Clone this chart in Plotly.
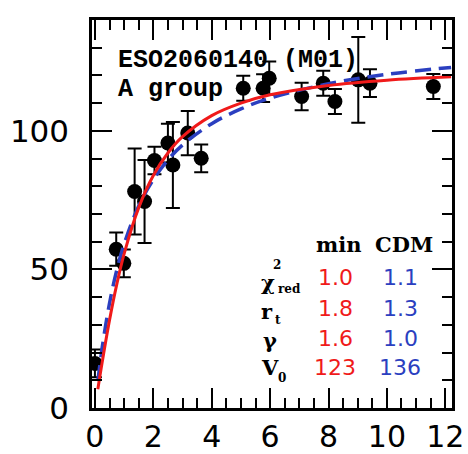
import plotly.graph_objects as go

# Observed rotation curve points (radius, velocity, error)
r_obs = [0.0, 0.73, 0.99, 1.36, 1.70, 2.04, 2.50, 2.67, 3.18, 3.64,
         5.08, 5.76, 5.97, 7.08, 7.82, 8.22, 9.02, 9.42, 11.59]
v_obs = [16.1, 57.3, 52.2, 78.1, 74.5, 89.3, 95.6, 87.7, 99.2, 90.1,
         115.4, 115.4, 119.0, 112.4, 117.2, 110.6, 118.4, 117.2, 116.0]
v_err = [5, 6, 5, 15.5, 15, 5, 7, 15.5, 8, 5,
         4.5, 5, 6, 5, 4.5, 4.5, 15.5, 5, 4.5]

# Fitted curves
r_fit = [0.1, 0.25, 0.5, 0.75, 1.0, 1.5, 2.0, 2.5, 3.0, 4.0, 5.0, 6.0, 8.0, 10.0, 12.2]
v_min = [6.8, 16.6, 31.7, 44.7, 55.6, 72.3, 83.9, 92.0, 97.9, 105.5, 110.0, 113.0, 116.4, 118.3, 119.5]
v_cdm = [9.7, 21.9, 37.8, 49.8, 59.1, 72.9, 82.4, 89.5, 94.9, 102.6, 107.9, 111.8, 117.0, 120.4, 122.9]

# Table
row_values_min = ["1.0", "1.8", "1.6", "123"]
row_values_cdm = ["1.1", "1.3", "1.0", "136"]

RED = "#f01a1a"
BLUE = "#2b3fc0"

fig = go.Figure()
fig.add_trace(go.Scatter(
    x=r_obs, y=v_obs, mode="markers",
    marker=dict(color="black", size=15),
    error_y=dict(type="data", array=v_err, color="black", thickness=2, width=7),
    showlegend=False))
fig.add_trace(go.Scatter(
    x=r_fit, y=v_cdm, mode="lines", line=dict(color=BLUE, width=3.5, dash="16px,8px", shape="spline"),
    showlegend=False))
fig.add_trace(go.Scatter(
    x=r_fit, y=v_min, mode="lines", line=dict(color=RED, width=3, shape="spline"),
    showlegend=False))

L, R, T, B = 92, 452, 20, 408
W, H = R - L, B - T


def xp(px):
    return (px - L) / W


def yp(py):
    return (B - py) / H


ann = []
title_font = dict(family="Liberation Mono", size=25, color="black")
ann.append(dict(x=xp(116), y=yp(61), text="<b>ESO2060140 (M01)</b>", xanchor="left", yanchor="middle",
                font=title_font))
ann.append(dict(x=xp(116), y=yp(89), text="<b>A group</b>", xanchor="left", yanchor="middle",
                font=title_font))

head_font = dict(family="DejaVu Serif", size=21, color="black")
ann.append(dict(x=xp(338), y=yp(245), text="<b>min</b>", xanchor="center", yanchor="middle", font=head_font))
ann.append(dict(x=xp(404), y=yp(245), text="<b>CDM</b>", xanchor="center", yanchor="middle", font=head_font))

row_y = [277, 308, 338, 367]
for ry, vm, vc in zip(row_y, row_values_min, row_values_cdm):
    ann.append(dict(x=xp(335), y=yp(ry), text=vm, xanchor="center", yanchor="middle",
                    font=dict(family="DejaVu Sans", size=22, color=RED)))
    ann.append(dict(x=xp(400), y=yp(ry), text=vc, xanchor="center", yanchor="middle",
                    font=dict(family="DejaVu Sans", size=22, color=BLUE)))

lab_font = dict(family="DejaVu Serif", size=21, color="black")
small_font = dict(family="DejaVu Serif", size=12, color="black")
ann.append(dict(x=xp(259), y=yp(282), text="<b>χ</b>", xanchor="left", yanchor="middle", font=lab_font))
ann.append(dict(x=xp(271), y=yp(265), text="<b>2</b>", xanchor="left", yanchor="middle", font=small_font))
ann.append(dict(x=xp(276), y=yp(289), text="<b>red</b>", xanchor="left", yanchor="middle", font=small_font))
ann.append(dict(x=xp(259), y=yp(311), text="<b>r</b>", xanchor="left", yanchor="middle", font=lab_font))
ann.append(dict(x=xp(273), y=yp(320), text="<b>t</b>", xanchor="left", yanchor="middle", font=small_font))
ann.append(dict(x=xp(261), y=yp(340), text="<b>γ</b>", xanchor="left", yanchor="middle", font=lab_font))
ann.append(dict(x=xp(259), y=yp(367), text="<b>V</b>", xanchor="left", yanchor="middle", font=lab_font))
ann.append(dict(x=xp(276), y=yp(378), text="<b>0</b>", xanchor="left", yanchor="middle", font=small_font))

for a in ann:
    a.update(xref="paper", yref="paper", showarrow=False)

axis_common = dict(
    showgrid=False, zeroline=False, showline=True, linecolor="black", linewidth=2.5,
    mirror="allticks", ticks="inside", ticklen=20, tickwidth=2, tickcolor="black",
    automargin=False,
)

fig.update_layout(
    width=468, height=454,
    margin=dict(l=L, r=468 - R, t=T, b=454 - B),
    paper_bgcolor="white", plot_bgcolor="white",
    annotations=ann,
    xaxis=dict(range=[-0.1, 12.23], tickmode="linear", tick0=0, dtick=2,
               minor=dict(dtick=0.5, ticklen=10, tickwidth=2, tickcolor="black", ticks="inside"),
               tickfont=dict(family="DejaVu Sans", size=30, color="black"),
               ticklabelstandoff=0, **axis_common),
    yaxis=dict(range=[0, 140], tickmode="linear", tick0=0, dtick=50,
               minor=dict(dtick=10, ticklen=10, tickwidth=2, tickcolor="black", ticks="inside"),
               tickfont=dict(family="DejaVu Sans", size=31, color="black"),
               ticklabelstandoff=14, **axis_common),
)

fig.write_html("out.html")
